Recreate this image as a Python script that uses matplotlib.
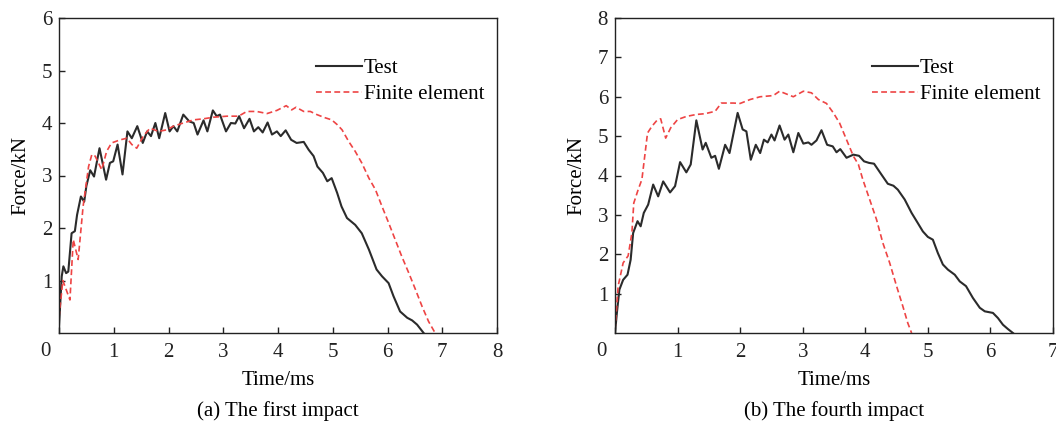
import numpy as np
import matplotlib
matplotlib.use("Agg")
import matplotlib.pyplot as plt

plt.rcParams['font.family'] = ['Liberation Serif', 'DejaVu Serif']
plt.rcParams['mathtext.fontset'] = 'stix'

# (a) first impact: test curve
t_test_a = [0, 0.05, 0.08, 0.13, 0.17, 0.23, 0.29, 0.33, 0.40, 0.46, 0.50, 0.57, 0.64,
            0.74, 0.86, 0.93, 0.99, 1.07, 1.16, 1.25, 1.33, 1.43, 1.53, 1.61, 1.68,
            1.76, 1.83, 1.94, 2.02, 2.09, 2.16, 2.27, 2.38, 2.46, 2.53, 2.64, 2.71,
            2.81, 2.88, 2.94, 3.05, 3.14, 3.22, 3.29, 3.38, 3.48, 3.56, 3.64, 3.72,
            3.81, 3.89, 3.98, 4.05, 4.14, 4.24, 4.34, 4.47, 4.56, 4.65, 4.72, 4.82,
            4.90, 4.98, 5.08, 5.16, 5.26, 5.41, 5.53, 5.66, 5.80, 5.90, 6.02, 6.11,
            6.23, 6.36, 6.45, 6.54, 6.66]
f_test_a = [0.13, 1.08, 1.27, 1.14, 1.17, 1.90, 1.94, 2.25, 2.60, 2.50, 2.80, 3.10, 2.98,
            3.52, 2.92, 3.24, 3.27, 3.59, 3.02, 3.84, 3.71, 3.94, 3.62, 3.84, 3.75,
            4.00, 3.71, 4.19, 3.84, 3.94, 3.84, 4.16, 4.03, 4.00, 3.78, 4.05, 3.84,
            4.24, 4.13, 4.16, 3.84, 4.00, 3.99, 4.13, 3.90, 4.08, 3.84, 3.92, 3.82,
            4.01, 3.78, 3.84, 3.75, 3.86, 3.68, 3.62, 3.64, 3.49, 3.37, 3.17, 3.05,
            2.89, 2.95, 2.67, 2.41, 2.19, 2.06, 1.90, 1.59, 1.21, 1.08, 0.95, 0.70,
            0.41, 0.29, 0.24, 0.16, 0.0]

# (a) first impact: finite element curve
t_fe_a = [0, 0.07, 0.20, 0.26, 0.35, 0.44, 0.54, 0.60, 0.66, 0.78, 0.87, 0.96, 1.12,
          1.24, 1.33, 1.42, 1.54, 1.66, 1.82, 1.97, 2.09, 2.27, 2.46, 2.64, 2.82,
          3.07, 3.28, 3.43, 3.61, 3.80, 3.98, 4.15, 4.25, 4.33, 4.47, 4.59, 4.71,
          4.86, 4.98, 5.08, 5.17, 5.29, 5.41, 5.53, 5.66, 5.78, 5.90, 6.02, 6.14,
          6.26, 6.39, 6.51, 6.63, 6.75, 6.87]
f_fe_a = [0.30, 1.00, 0.63, 1.78, 1.40, 2.41, 3.17, 3.40, 3.37, 3.11, 3.46, 3.62, 3.68,
          3.71, 3.59, 3.52, 3.75, 3.90, 3.84, 3.87, 3.94, 4.00, 4.06, 4.08, 4.11,
          4.13, 4.13, 4.22, 4.22, 4.18, 4.24, 4.33, 4.25, 4.30, 4.22, 4.22, 4.16,
          4.10, 4.06, 3.97, 3.87, 3.65, 3.46, 3.24, 2.95, 2.73, 2.41, 2.10, 1.78,
          1.46, 1.14, 0.83, 0.51, 0.22, 0.0]

# (b) fourth impact: test curve
t_test_b = [0, 0.03, 0.07, 0.13, 0.20, 0.25, 0.29, 0.36, 0.41, 0.46, 0.53, 0.61, 0.69,
            0.77, 0.88, 0.96, 1.04, 1.14, 1.21, 1.30, 1.40, 1.45, 1.54, 1.60, 1.66,
            1.76, 1.83, 1.96, 2.04, 2.10, 2.17, 2.25, 2.32, 2.38, 2.44, 2.50, 2.55,
            2.63, 2.71, 2.77, 2.85, 2.93, 3.01, 3.09, 3.14, 3.22, 3.30, 3.39, 3.48,
            3.54, 3.60, 3.70, 3.81, 3.90, 3.98, 4.06, 4.14, 4.26, 4.36, 4.45, 4.52,
            4.63, 4.74, 4.84, 4.92, 5.00, 5.08, 5.16, 5.24, 5.32, 5.43, 5.51, 5.61,
            5.72, 5.83, 5.91, 6.04, 6.12, 6.20, 6.28, 6.36]
f_test_b = [0.0, 0.51, 1.10, 1.35, 1.48, 1.86, 2.54, 2.84, 2.71, 3.05, 3.26, 3.77, 3.47,
            3.85, 3.57, 3.73, 4.34, 4.08, 4.28, 5.40, 4.66, 4.83, 4.45, 4.50, 4.17,
            4.78, 4.57, 5.59, 5.17, 5.12, 4.40, 4.78, 4.57, 4.91, 4.84, 5.04, 4.89,
            5.27, 4.91, 5.04, 4.59, 5.08, 4.81, 4.84, 4.78, 4.89, 5.15, 4.78, 4.74,
            4.59, 4.67, 4.45, 4.53, 4.50, 4.36, 4.32, 4.30, 4.02, 3.79, 3.74, 3.64,
            3.39, 3.05, 2.79, 2.58, 2.44, 2.37, 2.03, 1.74, 1.61, 1.48, 1.31, 1.19,
            0.89, 0.64, 0.55, 0.51, 0.38, 0.21, 0.10, 0.0]

# (b) fourth impact: finite element curve
t_fe_b = [0, 0.05, 0.13, 0.21, 0.27, 0.30, 0.37, 0.43, 0.52, 0.59, 0.67, 0.73, 0.81,
          0.89, 1.00, 1.14, 1.30, 1.44, 1.60, 1.70, 1.89, 2.00, 2.16, 2.32, 2.53,
          2.63, 2.85, 3.01, 3.14, 3.25, 3.38, 3.49, 3.59, 3.70, 3.81, 3.89, 3.96,
          4.07, 4.18, 4.28, 4.39, 4.50, 4.60, 4.68, 4.74]
f_fe_b = [0.08, 1.19, 1.78, 1.96, 2.54, 3.30, 3.64, 3.90, 5.08, 5.25, 5.40, 5.44, 4.95,
          5.21, 5.42, 5.50, 5.55, 5.57, 5.63, 5.84, 5.84, 5.83, 5.93, 6.00, 6.03,
          6.14, 6.00, 6.14, 6.10, 5.93, 5.83, 5.59, 5.33, 4.91, 4.49, 4.28, 3.90,
          3.39, 2.88, 2.29, 1.78, 1.19, 0.68, 0.25, 0.0]

panels = [
    dict(t1=t_test_a, f1=f_test_a, t2=t_fe_a, f2=f_fe_a,
         xmax=8, ymax=6, caption='(a) The first impact'),
    dict(t1=t_test_b, f1=f_test_b, t2=t_fe_b, f2=f_fe_b,
         xmax=7, ymax=8, caption='(b) The fourth impact'),
]

fig = plt.figure(figsize=(10.56, 4.30), dpi=100, facecolor='w')
lefts = [59 / 1056, 615 / 1056]
fs = 15

for left, p in zip(lefts, panels):
    ax = fig.add_axes([left, 97 / 430, 438 / 1056, 315 / 430])
    ax.plot(p['t1'], p['f1'], color='#2b2b2b', lw=1.5, label='Test')
    ax.plot(p['t2'], p['f2'], color='#ee4444', lw=1.2, ls=(0, (3.5, 2)),
            label='Finite element')
    ax.set_xlim(0, p['xmax'])
    ax.set_ylim(0, p['ymax'])
    xt = list(range(0, p['xmax'] + 1))
    ax.set_xticks(xt)
    ax.set_xticklabels([''] + [str(v) for v in xt[1:]])
    yt = list(range(1, p['ymax'] + 1))
    ax.set_yticks(yt)
    ax.set_yticklabels([str(v) for v in yt])
    ax.tick_params(direction='in', length=4, width=1, labelsize=fs, colors='#222222')
    ax.tick_params(axis='x', pad=7)
    ax.tick_params(axis='y', pad=5)
    for s in ax.spines.values():
        s.set_linewidth(1.0)
        s.set_color('#222222')
    ax.annotate('0', xy=(0, 0), xycoords='axes fraction', xytext=(-14, -19),
                textcoords='offset pixels', ha='center', va='center',
                fontsize=fs, color='#222222')
    ax.set_xlabel('Time/ms', fontsize=fs, labelpad=7)
    ax.set_ylabel('Force/kN', fontsize=fs, labelpad=8)
    ax.text(0.5, -0.248, p['caption'], transform=ax.transAxes, ha='center',
            va='center', fontsize=fs)
    ax.legend(loc='upper right', bbox_to_anchor=(1.0, 0.91), frameon=False,
              fontsize=fs, handlelength=2.2, handletextpad=0.1, labelspacing=0.3,
              borderaxespad=0.2)

fig.savefig('out.png', dpi=100)
